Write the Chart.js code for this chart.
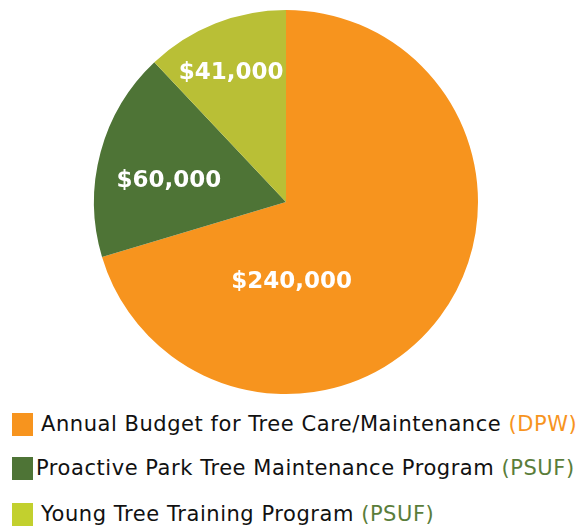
<!DOCTYPE html>
<html>
<head>
<meta charset="utf-8">
<script src="https://cdn.jsdelivr.net/npm/chart.js@4"></script>
<style>
  html, body { margin: 0; padding: 0; background: #fff; }
  #wrap { position: relative; width: 588px; height: 529px; }
  #pie { position: absolute; left: 0; top: 0; }
  .legend { position: absolute; left: 0; top: 404px; width: 588px; font-family: "DejaVu Sans", sans-serif; font-size: 21px; letter-spacing: 0.55px; color: #111; }
  .row { position: absolute; left: 0; height: 24px; white-space: nowrap; }
  .box { position: absolute; left: 12px; top: 0; width: 21px; height: 23px; }
  .txt { position: absolute; top: 0; line-height: 23px; }
</style>
</head>
<body>
<div id="wrap">
  <canvas id="pie" width="588" height="404"></canvas>
  <div class="legend" id="legend"></div>
</div>
<script>
// Budget figures
const categories = [
    'Annual Budget for Tree Care/Maintenance',
    'Proactive Park Tree Maintenance Program',
    'Young Tree Training Program'
];
const sources = ['(DPW)', '(PSUF)', '(PSUF)'];
const amounts = [240000, 60000, 41000];

// Colours
const sliceColors = ['#F7941E', '#4E7436', '#B9BF36'];
const boxColors = ['#F7941E', '#4E7436', '#C2D02E'];
const sourceColors = ['#F7941E', '#5A7D3A', '#5A7D3A'];

// Label placement inside each slice: angle (deg, canvas coords) and fraction of radius
const labelSpots = [
    { angle: 86, r: 0.42 },
    { angle: 190, r: 0.62 },
    { angle: 247, r: 0.73 }
];

// Legend row tops (px from legend top) and text start
const legendRows = [
    { top: 9, textLeft: 41 },
    { top: 53, textLeft: 36 },
    { top: 99, textLeft: 41 }
];

function money(v) {
    return '$' + v.toLocaleString('en-US');
}

// Draw amount labels on the slices
const sliceLabels = {
    id: 'sliceLabels',
    afterDatasetsDraw(chart) {
        const ctx = chart.ctx;
        const meta = chart.getDatasetMeta(0);
        ctx.save();
        ctx.fillStyle = '#fff';
        ctx.font = 'bold 23px "DejaVu Sans", sans-serif';
        ctx.textAlign = 'center';
        ctx.textBaseline = 'middle';
        meta.data.forEach((arc, i) => {
            const spot = labelSpots[i];
            const a = spot.angle * Math.PI / 180;
            const x = arc.x + Math.cos(a) * arc.outerRadius * spot.r;
            const y = arc.y + Math.sin(a) * arc.outerRadius * spot.r;
            ctx.fillText(money(amounts[i]), x, y);
        });
        ctx.restore();
    }
};

new Chart(document.getElementById('pie').getContext('2d'), {
    type: 'pie',
    data: {
        labels: categories,
        datasets: [{
            data: amounts,
            backgroundColor: sliceColors,
            borderWidth: 0
        }]
    },
    options: {
        responsive: false,
        animation: false,
        layout: { padding: { top: 10, bottom: 10, left: 0, right: 16 } },
        plugins: {
            legend: { display: false },
            tooltip: { enabled: false }
        }
    },
    plugins: [sliceLabels]
});

// Legend below the pie
const legend = document.getElementById('legend');
categories.forEach((name, i) => {
    const row = document.createElement('div');
    row.className = 'row';
    row.style.top = legendRows[i].top + 'px';
    row.innerHTML =
        `<div class="box" style="background:${boxColors[i]}"></div>` +
        `<div class="txt" style="left:${legendRows[i].textLeft}px">${name} ` +
        `<span style="color:${sourceColors[i]}">${sources[i]}</span></div>`;
    legend.appendChild(row);
});
</script>
</body>
</html>
